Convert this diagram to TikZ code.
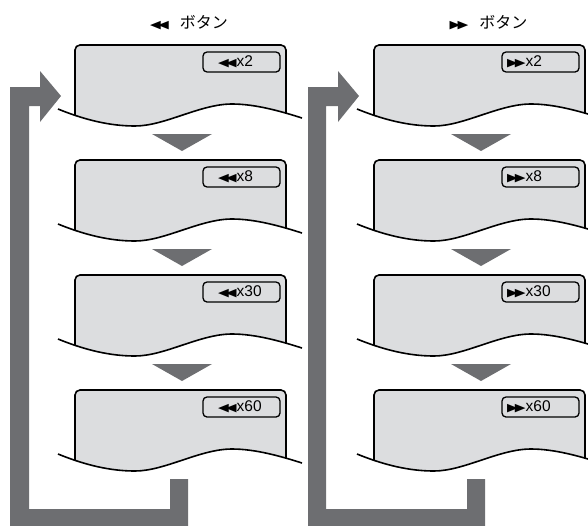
\documentclass[tikz,border=0pt]{standalone}
\usepackage{fontspec}
\setmainfont{Liberation Sans}
\newfontfamily\jpfont{Noto Sans CJK JP}
\newfontfamily\symfont{DejaVu Sans}
\definecolor{screen}{HTML}{DCDDDF}
\definecolor{arrowgray}{HTML}{6D6E71}
\newcommand\twotri[1]{\scalebox{1}[0.8]{\symfont\fontsize{14}{14}\selectfont #1\kern-3pt#1}}
\newcommand\lefttri{\twotri{◀}}
\newcommand\righttri{\twotri{▶}}
\newcommand\screenpanel[5]{%
  \begin{scope}[shift={(#1,#2)}]
    \begin{scope}
      \clip (58,64) .. controls (85,75) and (110,81) .. (135,81)
        .. controls (165,81) and (200,59) .. (232,59)
        .. controls (255,59) and (280,66) .. (302,73)
        -- (302,-5) -- (58,-5) -- cycle;
      \draw[screenline, fill=screen, rounded corners=5pt] (75,0) rectangle (286,110);
    \end{scope}
    \draw[screenline] (58,64) .. controls (85,75) and (110,81) .. (135,81)
        .. controls (165,81) and (200,59) .. (232,59)
        .. controls (255,59) and (280,66) .. (302,73);
    \node[badge] (#3) at (241.5,17) {};
    \node[badgetext] (#3t) at (#4,17) {#5};
  \end{scope}}
\newcommand\downtri[2]{%
  \fill[arrowgray] (#1+152,#2+89) -- (#1+212,#2+89) -- (#1+182,#2+106) -- cycle;}
\begin{document}
\begin{tikzpicture}[x=1pt,y=-1pt,
  screenline/.style={line width=1.6pt, black},
  badge/.style={draw=black, line width=1.3pt, rounded corners=4pt, minimum width=77pt, minimum height=20pt, inner sep=0pt},
  badgetext/.style={anchor=west, inner sep=0pt, font=\fontsize{15.5}{15.5}\selectfont},
  title/.style={inner sep=0pt, font=\fontsize{16}{16}\selectfont}]
\useasboundingbox (0,0) rectangle (588,525);
\clip (0,0) rectangle (588,525);
% titles
\node[title] (tl) at (189,23) {\lefttri\hspace{11pt}{\jpfont ボタン}};
\node[title] (tr) at (488.5,23) {\righttri\hspace{11pt}{\jpfont ボタン}};
% loop arrows
\fill[arrowgray] (10,530) -- (10,87) -- (40,87) -- (40,71) -- (61,96) -- (40,122) -- (40,106) -- (29,106) -- (29,509) -- (170,509) -- (170,479) -- (188,479) -- (188,530) -- cycle;
\fill[arrowgray] (308,530) -- (308,87) -- (338,87) -- (338,71) -- (359,96) -- (338,122) -- (338,106) -- (326,106) -- (326,509) -- (467,509) -- (467,479) -- (485,479) -- (485,530) -- cycle;
% left column
\screenpanel{0}{45}{l1}{218}{\lefttri x2}
\screenpanel{0}{160}{l2}{218}{\lefttri x8}
\screenpanel{0}{275}{l3}{218}{\lefttri x30}
\screenpanel{0}{390}{l4}{218}{\lefttri x60}
\downtri{0}{45}\downtri{0}{160}\downtri{0}{275}
% right column
\screenpanel{299}{45}{r1}{208}{\righttri x2}
\screenpanel{299}{160}{r2}{208}{\righttri x8}
\screenpanel{299}{275}{r3}{208}{\righttri x30}
\screenpanel{299}{390}{r4}{208}{\righttri x60}
\downtri{299}{45}\downtri{299}{160}\downtri{299}{275}
\end{tikzpicture}
\end{document}
